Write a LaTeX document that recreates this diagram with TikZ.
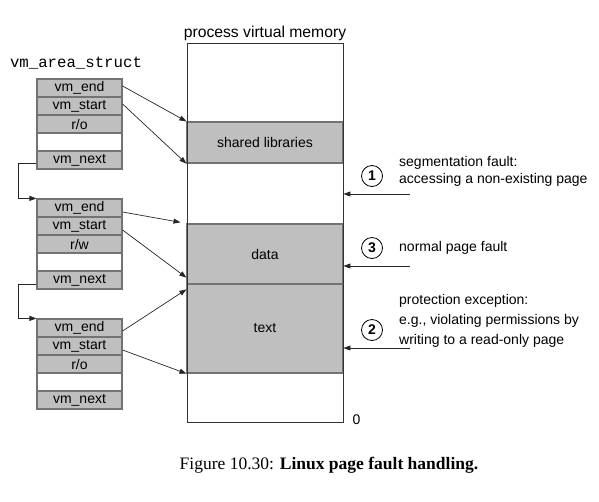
\documentclass[tikz,border=0pt]{standalone}
\usepackage{fontspec}
\setmainfont{Liberation Sans}
\newfontfamily\serifcap{Liberation Serif}
\newfontfamily\monof{Liberation Mono}
\usetikzlibrary{arrows.meta,calc}
\begin{document}
\begin{tikzpicture}[x=1pt,y=-1pt,
  row/.style={draw=black!55, line width=1.2pt, fill=gray!50, minimum width=85pt, minimum height=18pt, inner sep=0pt, font=\fontsize{14}{16}\selectfont},
  blank/.style={row, fill=white},
  region/.style={draw=black!55, line width=1.2pt, fill=gray!50, minimum width=156pt, inner sep=0pt, font=\fontsize{14}{16}\selectfont},
  arr/.style={draw=black!85, line width=0.7pt, -{Triangle[length=7pt,width=5pt]}},
  num/.style={circle, draw=black, line width=0.8pt, minimum size=21pt, inner sep=0pt, font=\bfseries\fontsize{14}{16}\selectfont},
  note/.style={anchor=west, align=left, inner sep=0pt, font=\fontsize{14}{17}\selectfont}]
\useasboundingbox (0,0) rectangle (599,501);

% titles
\node[font=\fontsize{15.7}{18}\selectfont] (title) at (265,33) {process virtual memory};
\node[font=\monof\fontsize{15.7}{18}\selectfont] (vmas) at (76,63) {vm\_area\_struct};

% memory regions
\node[region, minimum height=41pt] (shl) at (265,142.5) {shared libraries};
\node[region, minimum height=60pt] (data) at (265,254) {data};
\node[region, minimum height=89pt] (txt) at (265,328.5) {text};
\node[draw=black!80, line width=0.9pt, minimum width=156pt, minimum height=379pt, inner sep=0pt] (mem) at (265,232.5) {};
\node[font=\fontsize{14}{16}\selectfont] (zero) at (356.5,420) {0};

% struct 1
\node[row] (s1end) at (79.5,88) {vm\_end};
\node[row] (s1start) at (79.5,106) {vm\_start};
\node[row] (s1perm) at (79.5,124) {r/o};
\node[blank] (s1blank) at (79.5,142) {};
\node[row] (s1next) at (79.5,160) {vm\_next};
% struct 2
\node[row] (s2end) at (79.5,208) {vm\_end};
\node[row] (s2start) at (79.5,226) {vm\_start};
\node[row] (s2perm) at (79.5,244) {r/w};
\node[blank] (s2blank) at (79.5,262) {};
\node[row] (s2next) at (79.5,280) {vm\_next};
% struct 3
\node[row] (s3end) at (79.5,328) {vm\_end};
\node[row] (s3start) at (79.5,346) {vm\_start};
\node[row] (s3perm) at (79.5,364) {r/o};
\node[blank] (s3blank) at (79.5,382) {};
\node[row] (s3next) at (79.5,400) {vm\_next};

% next links
\draw[arr] ([yshift=-3pt]s1next.west) -- ++(-18,0) |- (s2end.north west);
\draw[arr] ([yshift=-4pt]s2next.west) -- ++(-18,0) |- (s3end.north west);

% struct -> memory
\draw[arr] ([yshift=2pt]s1end.east) -- (shl.north west);
\draw[arr] ([yshift=2pt]s1start.east) -- (shl.south west);
\draw[arr, shorten >=6pt] ([yshift=-4pt]s2end.east) -- (data.north west);
\draw[arr] ([yshift=-4pt]s2start.east) -- ([yshift=7pt]data.south west);
\draw[arr] ([yshift=-3pt]s3end.east) -- ([yshift=-6pt]txt.north west);
\draw[arr] ([yshift=-4pt]s3start.east) -- (txt.south west);

% annotations
\node[num] (c1) at (372,176) {1};
\node[num] (c3) at (372,248) {3};
\node[num] (c2) at (372,330) {2};
\node[note, font=\fontsize{14}{17}\selectfont] (n1) at (399,171.5) {segmentation fault:\\accessing a non-existing page};
\node[note] (n3) at (399,248) {normal page fault};
\node[note, font=\fontsize{14}{20}\selectfont] (n2) at (399,321) {protection exception:\\e.g., violating permissions by\\writing to a read-only page};

\coordinate (a1) at (410,194);
\coordinate (a3) at (410,266);
\coordinate (a2) at (410,348);
\draw[arr] (a1) -- (a1 -| mem.east);
\draw[arr] (a3) -- (a3 -| mem.east);
\draw[arr] (a2) -- (a2 -| mem.east);

% caption
\node[font=\serifcap\fontsize{17.5}{20}\selectfont] (cap) at (329,465) {Figure 10.30: \textbf{Linux page fault handling.}};
\end{tikzpicture}
\end{document}
